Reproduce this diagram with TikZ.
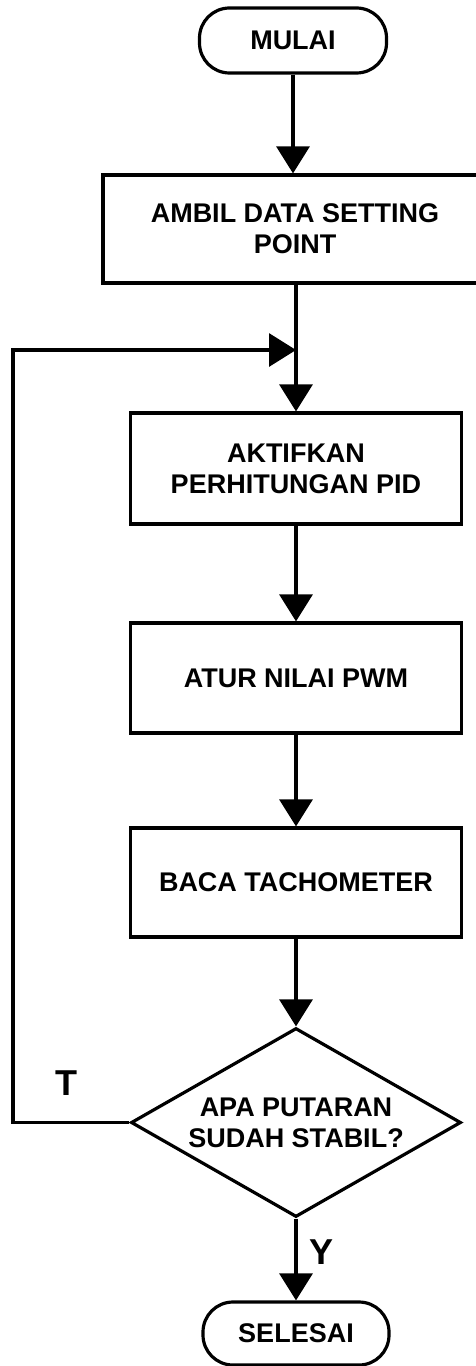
\documentclass[tikz,border=0pt]{standalone}
\usepackage{fontspec}
\setmainfont{Liberation Sans}
\usetikzlibrary{shapes.geometric,arrows.meta}
\begin{document}
\begin{tikzpicture}[x=1bp,y=-1bp, line width=3.2bp,
  every node/.style={font=\fontsize{27bp}{31bp}\selectfont\bfseries, align=center, inner sep=0pt},
  term/.style={draw, rounded corners=30bp, minimum width=187bp, minimum height=65bp},
  proc/.style={draw, minimum width=331bp, minimum height=110bp},
  dec/.style={draw, diamond, aspect=1.75, minimum width=330bp, minimum height=189bp},
  lbl/.style={font=\fontsize{36bp}{40bp}\selectfont\bfseries},
  arr/.style={-{Triangle[width=33bp,length=27bp]}}]
\useasboundingbox (0,0) rectangle (476,1366);
\clip (0,0) rectangle (476,1366);
\node[term] (start) at (293,40.5) {MULAI};
\node[draw, minimum width=384bp, minimum height=108bp] (ambil) at (295,229) {AMBIL DATA SETTING\\POINT};
\coordinate (join) at (295,350);
\node[proc, minimum height=111bp] (pid) at (296,468.5) {AKTIFKAN\\PERHITUNGAN PID};
\node[proc] (pwm) at (296,678) {ATUR NILAI PWM};
\node[proc, minimum height=109bp] (tach) at (296,882.5) {BACA TACHOMETER};
\node[dec] (cek) at (296,1122.5) {APA PUTARAN\\SUDAH STABIL?};
\node[term, minimum width=186bp, minimum height=63bp] (end) at (296,1333.5) {SELESAI};
\coordinate (cl) at (13,1122.5);
\coordinate (tl) at (13,350);
\node[lbl] (T) at (66,1083.5) {T};
\node[lbl] (Y) at (322,1252.5) {Y};
\draw[arr] (start.south) -- (start.south |- ambil.north);
\draw[arr] (ambil.south -| pid.north) -- (pid.north);
\draw[arr] (pid) -- (pwm);
\draw[arr] (pwm) -- (tach);
\draw[arr] (tach) -- (cek);
\draw[arr] (cek) -- (end);
\draw[arr] (cek.west) -- (cl) -- (tl) -- (join -| pid.north);
\end{tikzpicture}
\end{document}
